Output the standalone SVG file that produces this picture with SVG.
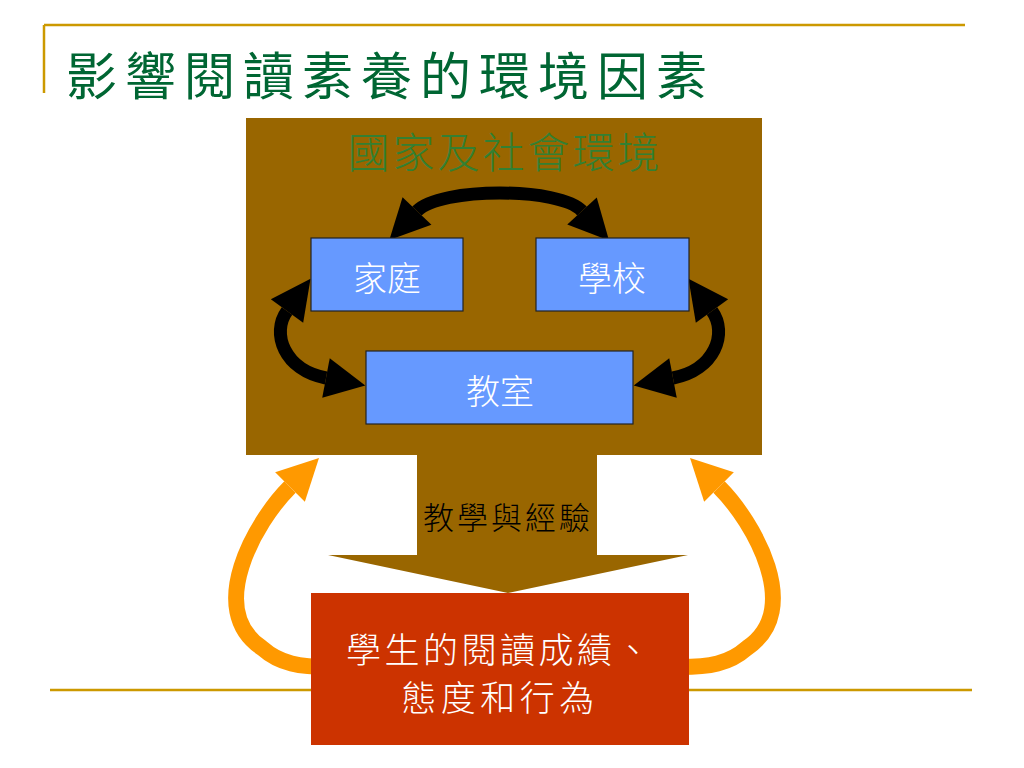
<svg xmlns="http://www.w3.org/2000/svg" width="1024" height="768" viewBox="0 0 1024 768">
<defs>
<style>
.rule{stroke:#CC9900;stroke-width:2.5;fill:none}
.cjk{font-family:"Noto Sans CJK TC","Noto Sans CJK SC",sans-serif}
.thin{font-weight:300}
.box{fill:#6699FF;stroke:#222;stroke-width:1.2}
.boxt{fill:#fff;font-size:34px;text-anchor:middle}
.blk{fill:none;stroke:#000;stroke-width:13}
.org{fill:none;stroke:#FF9900;stroke-width:16}
</style>
<marker id="hb" markerUnits="userSpaceOnUse" markerWidth="44" markerHeight="46" viewBox="0 -23 44 46" refX="0" refY="0" orient="auto-start-reverse" overflow="visible">
<path d="M0,-20 L40,0 L0,20 Z" fill="#000"/>
</marker>
<marker id="ho" markerUnits="userSpaceOnUse" markerWidth="46" markerHeight="48" viewBox="0 -24 46 48" refX="0" refY="0" orient="auto-start-reverse" overflow="visible">
<path d="M0,-21 L41,0 L0,21 Z" fill="#FF9900"/>
</marker>
</defs>
<rect width="1024" height="768" fill="#fff"/>
<g id="frame">
<line class="rule" x1="44" y1="25" x2="965" y2="25"/>
<line class="rule" x1="44" y1="25" x2="44" y2="93"/>
<line class="rule" x1="50" y1="690" x2="972" y2="690"/>
<text class="cjk" x="66" y="95" font-size="51" letter-spacing="8" fill="#006633">影響閱讀素養的環境因素</text>
</g>
<g id="environment">
<path d="M246,118 H762 V455 H597 V555 H688 L508,593 L328,555 H417 V455 H246 Z" fill="#996600"/>
<text class="cjk thin" x="505" y="168" font-size="42" letter-spacing="3" text-anchor="middle" fill="#338033">國家及社會環境</text>
<text class="cjk thin" x="508" y="529" font-size="31" letter-spacing="3" text-anchor="middle" fill="#000">教學與經驗</text>
</g>
<g id="connectors">
<path class="blk" d="M417,211 C440,187 560,187 582,211" marker-start="url(#hb)" marker-end="url(#hb)"/>
<path class="blk" d="M287,311 C271,333 284,370 326,378" marker-start="url(#hb)" marker-end="url(#hb)"/>
<path class="blk" d="M712,311 C728,333 715,370 673,378" marker-start="url(#hb)" marker-end="url(#hb)"/>
<path class="org" d="M290,487 C255,522 205,610 262,648 C280,664 300,667 330,667" marker-start="url(#ho)"/>
<path class="org" d="M719,487 C754,522 804,610 747,648 C729,664 709,667 680,667" marker-start="url(#ho)"/>
</g>
<g id="home">
<rect class="box" x="311" y="238" width="152" height="73"/>
<text class="cjk thin boxt" x="387" y="291">家庭</text>
</g>
<g id="school">
<rect class="box" x="536" y="238" width="153" height="73"/>
<text class="cjk thin boxt" x="612" y="291">學校</text>
</g>
<g id="classroom">
<rect class="box" x="366" y="351" width="267" height="73"/>
<text class="cjk thin boxt" x="500" y="404">教室</text>
</g>
<g id="student">
<rect x="311" y="593" width="378" height="152" fill="#CC3300"/>
<text class="cjk thin" x="500" y="663" font-size="35" letter-spacing="3.5" text-anchor="middle" fill="#fff">學生的閱讀成績、</text>
<text class="cjk thin" x="500" y="711" font-size="35" letter-spacing="4.5" text-anchor="middle" fill="#fff">態度和行為</text>
</g>
</svg>
